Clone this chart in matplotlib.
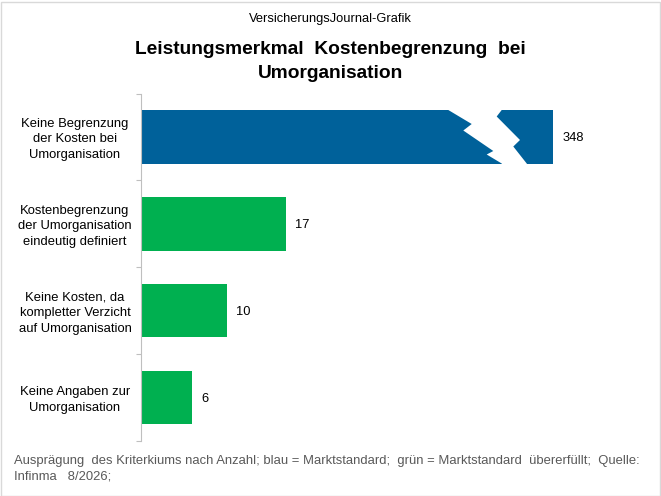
import matplotlib
matplotlib.use("Agg")
import matplotlib.pyplot as plt
from matplotlib.patches import Polygon, Rectangle

plt.rcParams['font.family'] = ['Liberation Sans', 'DejaVu Sans']

categories = ["Keine Begrenzung\nder Kosten bei\nUmorganisation",
              "Kostenbegrenzung\nder Umorganisation\neindeutig definiert",
              "Keine Kosten, da\nkompletter Verzicht\nauf Umorganisation",
              "Keine Angaben zur\nUmorganisation"]
values = [348, 17, 10, 6]
colors = ["#00619A", "#00B050", "#00B050", "#00B050"]
break_at = 48.2  # displayed length of the broken bar

W, H = 661, 496
fig = plt.figure(figsize=(W / 100, H / 100), dpi=100)
fig.patch.set_facecolor("white")

# figure border
fig.add_artist(Rectangle((0.5 / W, 0.5 / H), 1 - 2 / W, 1 - 2 / H, transform=fig.transFigure,
                         fill=False, edgecolor="#d9d9d9", linewidth=1))

ax_left, ax_right, ax_top, ax_bot = 141, 627, 93.5, 441
ax = fig.add_axes([ax_left / W, 1 - ax_bot / H, (ax_right - ax_left) / W, (ax_bot - ax_top) / H])
px_per_unit = 8.55
cat_px = (ax_bot - ax_top) / len(values)
ax.set_xlim(0, (ax_right - ax_left) / px_per_unit)
ax.set_ylim(len(values) - 0.5, -0.5)

bar_h = 0.615
disp = [min(v, break_at) for v in values]
ys = list(range(len(values)))
ax.barh(ys, disp, height=bar_h, color=colors, zorder=2)

for y, v, d in zip(ys, values, disp):
    ax.annotate(str(v), (d, y), xytext=(6.5, -1), textcoords="offset points",
                va="center", ha="left", fontsize=9.3, color="black")

# zigzag break on first bar (pixel coords -> data)
c0 = ax_top + cat_px / 2
def to_data(px, py):
    return ((px - ax_left) / px_per_unit, (py - c0) / cat_px)

left_pts = [(446, 104), (448.3, 110), (471.7, 124), (463.3, 130.5), (493.3, 151),
            (486.7, 154.5), (501.7, 163.5), (503.5, 168)]
right_pts = [(529, 168), (526.7, 163.5), (513.3, 146.5), (520, 140), (496.7, 116.5),
             (501.7, 110), (503.5, 104)]
poly = [to_data(*p) for p in left_pts + right_pts]
ax.add_patch(Polygon(poly, closed=True, facecolor="white", edgecolor="none", zorder=3))

# axes styling
for s in ["top", "right", "bottom"]:
    ax.spines[s].set_visible(False)
ax.spines["left"].set_color("#bfbfbf")
ax.spines["left"].set_linewidth(0.8)
ax.set_xticks([])
ax.set_yticks([i - 0.5 for i in range(len(values) + 1)])
ax.set_yticklabels([])
ax.tick_params(axis="y", length=3.5, color="#bfbfbf", width=0.8)

for y, c in zip(ys, categories):
    ax.text((75 - ax_left) / (ax_right - ax_left), y + 2.5 / cat_px, c,
            transform=ax.get_yaxis_transform(),
            ha="center", va="center", fontsize=9.4, linespacing=1.4, color="black")

fig.text(330.5 / W, 1 - 19 / H, "VersicherungsJournal-Grafik", ha="center", va="center",
         fontsize=9.3, color="black")
fig.text(330.5 / W, 1 - 61.5 / H, "Leistungsmerkmal  Kostenbegrenzung  bei\nUmorganisation",
         ha="center", va="center", fontsize=13.8, fontweight="bold", linespacing=1.6, color="black")
fig.text(14 / W, 1 - 469 / H,
         "Ausprägung  des Kriterkiums nach Anzahl; blau = Marktstandard;  grün = Marktstandard  übererfüllt;  Quelle:\nInfinma   8/2026;",
         ha="left", va="center", fontsize=9.4, color="#595959", linespacing=1.4)

fig.savefig("out.png", dpi=100, facecolor="white")
